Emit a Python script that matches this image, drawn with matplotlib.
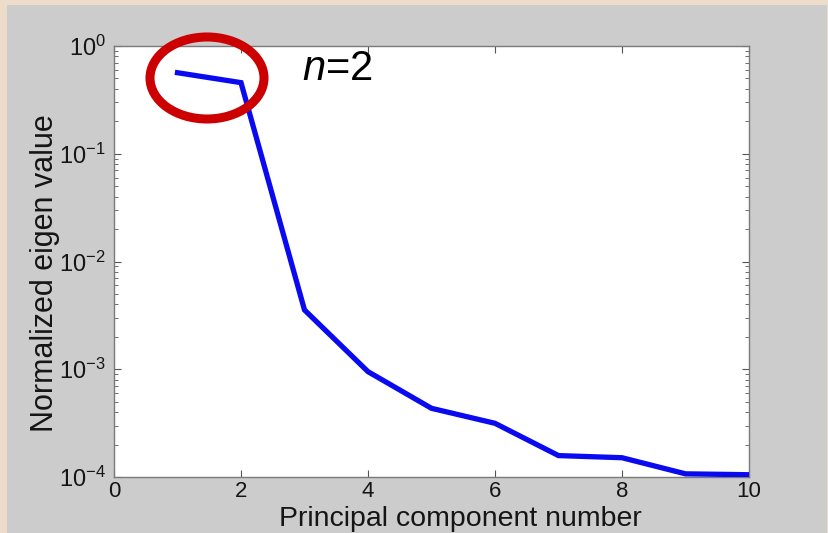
import matplotlib
matplotlib.use("Agg")
import matplotlib.pyplot as plt
from matplotlib.patches import Rectangle, Ellipse
from matplotlib.ticker import LogLocator, FixedLocator

plt.rcParams['font.family'] = ['Liberation Sans', 'DejaVu Sans']
plt.rcParams['mathtext.fontset'] = 'custom'
plt.rcParams['mathtext.rm'] = 'Liberation Sans'
plt.rcParams['mathtext.it'] = 'Liberation Sans:italic'

# Normalized eigenvalues of the principal components
components = [1, 2, 3, 4, 5, 6, 7, 8, 9, 10]
eigen_values = [0.565, 0.457, 0.00355, 0.00095, 0.000434, 0.000315,
                0.000158, 0.000151, 0.000107, 0.000105]
x_ticks = [0, 2, 4, 6, 8, 10]
y_ticks = [1e-4, 1e-3, 1e-2, 1e-1, 1e0]
y_tick_labels = [r'$\mathregular{10^{-4}}$', r'$\mathregular{10^{-3}}$',
                 r'$\mathregular{10^{-2}}$', r'$\mathregular{10^{-1}}$',
                 r'$\mathregular{10^{0}}$']

W, H = 829, 533
fig = plt.figure(figsize=(W / 100, H / 100), dpi=100)
fig.patch.set_facecolor('#EDDCC9')
# grey panel behind the axes
fig.add_artist(Rectangle((7 / W, 0), (827 - 7) / W, (533 - 5) / H,
                         transform=fig.transFigure, facecolor='#CCCCCC',
                         edgecolor='none', zorder=0))

ax = fig.add_axes([114 / W, 1 - 477 / H, (749 - 114) / W, (477 - 46) / H])
ax.set_facecolor('white')
ax.plot(components, eigen_values, color='#0A0AF0', lw=3.8,
        solid_joinstyle='miter', zorder=3)

ax.set_yscale('log')
ax.set_xlim(0, 10)
ax.set_ylim(1e-4, 1)
ax.xaxis.set_major_locator(FixedLocator(x_ticks))
ax.set_xticklabels([str(t) for t in x_ticks])
ax.yaxis.set_major_locator(FixedLocator(y_ticks))
ax.set_yticklabels(y_tick_labels)
ax.yaxis.set_minor_locator(LogLocator(base=10, subs=range(2, 10)))
ax.yaxis.set_minor_formatter(plt.NullFormatter())

for s in ax.spines.values():
    s.set_color('#7A7A7A')
    s.set_linewidth(1.0)
ax.tick_params(which='both', direction='in', top=True, right=True,
               colors='#555555', labelcolor='#151515')
ax.tick_params(which='major', length=5, labelsize=17)
ax.tick_params(axis='x', which='major', labelsize=16, pad=3)
ax.tick_params(axis='y', which='major', pad=6)
ax.tick_params(which='minor', length=3)

ax.set_xlabel('Principal component number', fontsize=20.5, color='#151515')
ax.xaxis.label.set_va('baseline')
ax.xaxis.set_label_coords(0.545, -0.114)
ax.set_ylabel('Normalized eigen value', fontsize=22, color='#151515')
ax.yaxis.label.set_va('baseline')
ax.yaxis.set_label_coords(-0.096, 0.473)

# highlight the first two components
ell = Ellipse((207, H - 78), 114, 82, transform=None, fill=False,
              edgecolor='#CC0000', linewidth=6.5, zorder=5, clip_on=False)
ax.add_artist(ell)
fig.text(302 / W, 1 - 80 / H, r'$\mathit{n}$=2', fontsize=30,
         color='black', ha='left', va='baseline')

fig.savefig('out.png', dpi=100, facecolor=fig.get_facecolor())
